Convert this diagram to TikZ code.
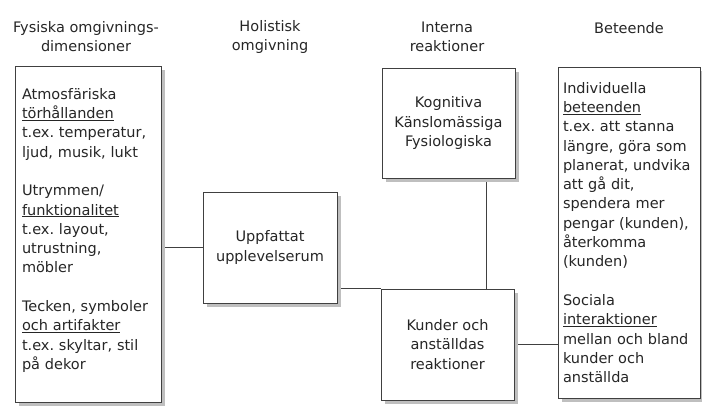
\documentclass[tikz,border=0pt]{standalone}
\usepackage{fontspec}
\setmainfont{DejaVu Sans}
\usetikzlibrary{positioning,shadows,backgrounds}
\frenchspacing

\tikzset{
  box/.style={draw=black!75, line width=1pt, fill=white, text=black!85,
    inner sep=0pt, font=\fontsize{14.5}{19.3}\selectfont,
    drop shadow={shadow xshift=4pt, shadow yshift=-4pt, fill=black!25, opacity=1}},
  head/.style={text=black!85, align=center, font=\fontsize{14.5}{19}\selectfont},
  link/.style={draw=black!75, line width=0.9pt}
}

\begin{document}
\begin{tikzpicture}[x=1pt, y=-1pt]
    \useasboundingbox (0,0) rectangle (702,408);

    % column headings
    \node[head] (hfys) at (86,37) {Fysiska omgivnings-\\dimensioner};
    \node[head] (hhol) at (270,37) {Holistisk\\omgivning};
    \node[head] (hint) at (447,37) {Interna\\reaktioner};
    \node[head] (hbet) at (629,28) {Beteende};

    % boxes
    \node[box, align=left, text width=132pt, minimum width=146pt, minimum height=336pt] (fys) at (88,234) {%
      Atmosfäriska\\ \underline{törhållanden}\\ t.ex. temperatur,\\ ljud, musik, lukt\\[19.3pt]
      Utrymmen/\\ \underline{funktionalitet}\\ t.ex. layout,\\ utrustning,\\ möbler\\[19.3pt]
      Tecken, symboler\\ \underline{och artifakter}\\ t.ex. skyltar, stil\\ på dekor\\[-9pt]\mbox{}};
    \node[box, align=center, minimum width=134pt, minimum height=111pt] (upp) at (270,247.5) {Uppfattat\\upplevelserum};
    \node[box, align=center, minimum width=133pt, minimum height=110pt] (kog) at (448.5,123) {Kognitiva\\Känslomässiga\\Fysiologiska};
    \node[box, align=center, minimum width=133pt, minimum height=111pt] (kund) at (447.5,344.5) {Kunder och\\anställdas\\reaktioner};
    \node[box, align=left, text width=132pt, minimum width=142pt, minimum height=331pt] (bet) at (629,232.5) {%
      Individuella\\ \underline{beteenden}\\ t.ex. att stanna\\ längre, göra som\\ planerat, undvika\\ att gå dit,\\
      spendera mer\\ pengar (kunden),\\ återkomma\\ (kunden)\\[19.3pt]
      Sociala\\ \underline{interaktioner}\\ mellan och bland\\ kunder och\\ anställda};

    % connectors
    \begin{scope}[on background layer]
      \draw[link] (upp.west) -- (upp.west -| fys.east);
      \draw[link] (kund.north west) -- (kund.north west -| upp.east);
      \draw[link] ([xshift=38pt]kog.south) -- ([xshift=38pt]kog.south |- kund.north);
      \draw[link] (kund.east) -- (kund.east -| bet.west);
    \end{scope}
\end{tikzpicture}
\end{document}
